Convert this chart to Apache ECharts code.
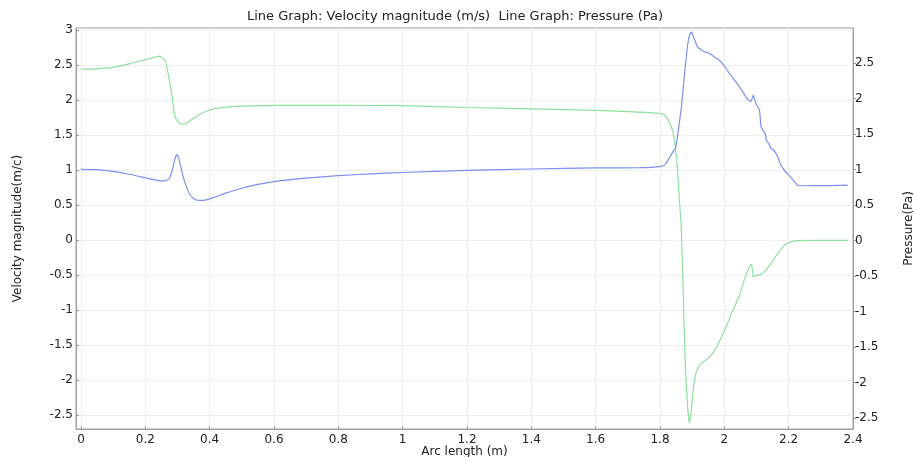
<!DOCTYPE html>
<html>
<head>
<meta charset="utf-8">
<script src="https://cdn.jsdelivr.net/npm/echarts@6/dist/echarts.min.js"></script>
<style>html,body{margin:0;padding:0;background:#fff;overflow:hidden;}#c{width:914px;height:457px;}</style>
</head>
<body>
<div id="c"></div>
<script>
var xTicks = [0, 0.2, 0.4, 0.6, 0.8, 1, 1.2, 1.4, 1.6, 1.8, 2, 2.2, 2.4];
var leftTicks = [-2.5, -2, -1.5, -1, -0.5, 0, 0.5, 1, 1.5, 2, 2.5, 3];
var rightTicks = [-2.5, -2, -1.5, -1, -0.5, 0, 0.5, 1, 1.5, 2, 2.5];

var velS = [0,0.05,0.1,0.15,0.2,0.24,0.26,0.275,0.285,0.293,0.298,0.305,0.315,0.328,0.34,0.355,0.37,0.39,0.42,0.45,0.5,0.55,0.6,0.7,0.8,0.9,1.0,1.2,1.4,1.6,1.74,1.8,1.814,1.829,1.84,1.848,1.855,1.866,1.876,1.886,1.892,1.898,1.905,1.917,1.927,1.938,1.953,1.968,1.984,2.0,2.016,2.031,2.047,2.06,2.072,2.083,2.09,2.098,2.109,2.114,2.12,2.127,2.131,2.138,2.145,2.152,2.159,2.166,2.176,2.19,2.207,2.224,2.23,2.26,2.3,2.34,2.383];
var vel  = [1.01,1.005,0.98,0.94,0.89,0.85,0.845,0.88,1.02,1.18,1.22,1.15,0.95,0.76,0.64,0.58,0.567,0.575,0.62,0.67,0.74,0.795,0.835,0.885,0.92,0.945,0.965,0.995,1.015,1.03,1.035,1.05,1.07,1.17,1.26,1.31,1.5,1.88,2.36,2.79,2.93,2.97,2.89,2.76,2.72,2.69,2.67,2.62,2.57,2.49,2.38,2.29,2.19,2.1,2.01,1.98,2.07,1.95,1.86,1.62,1.57,1.52,1.43,1.38,1.31,1.29,1.25,1.19,1.07,0.976,0.895,0.8,0.776,0.776,0.777,0.78,0.785];

var presS = [0,0.05,0.1,0.15,0.2,0.23,0.245,0.261,0.271,0.282,0.289,0.295,0.307,0.318,0.33,0.349,0.37,0.4,0.43,0.46,0.5,0.6,0.8,1.0,1.2,1.4,1.6,1.736,1.8,1.814,1.829,1.84,1.848,1.855,1.86,1.866,1.872,1.879,1.886,1.891,1.896,1.902,1.908,1.913,1.92,1.928,1.953,1.974,1.984,2.005,2.025,2.047,2.067,2.08,2.085,2.09,2.1,2.112,2.124,2.145,2.166,2.18,2.193,2.21,2.224,2.3,2.383];
var pres  = [2.415,2.42,2.44,2.49,2.55,2.585,2.6,2.54,2.35,2.07,1.81,1.72,1.65,1.64,1.66,1.72,1.78,1.84,1.87,1.885,1.895,1.905,1.905,1.9,1.875,1.855,1.835,1.81,1.79,1.77,1.67,1.53,1.3,0.97,0.59,0.2,-0.7,-1.8,-2.35,-2.57,-2.45,-2.15,-1.95,-1.85,-1.78,-1.73,-1.65,-1.52,-1.43,-1.22,-1.0,-0.77,-0.49,-0.35,-0.34,-0.51,-0.49,-0.48,-0.44,-0.32,-0.18,-0.1,-0.05,-0.015,0,0.002,0.003];

var titleText = 'Line Graph: Velocity magnitude (m/s)  Line Graph: Pressure (Pa)';

var velData = velS.map(function(s,i){return [s, vel[i]];});
var presData = presS.map(function(s,i){return [s, pres[i]];});

var FONT = 'DejaVu Sans';
var chart = echarts.init(document.getElementById('c'), null, {renderer:'canvas'});
chart.setOption({
  animation: false,
  backgroundColor: '#fff',
  textStyle: {fontFamily: FONT},
  graphic: [{
    type: 'text', x: 455, y: 17,
    style: {text: titleText, fontFamily: FONT, fontSize: 13, fill: '#222', align: 'center', verticalAlign: 'middle'}
  }],
  grid: {left: 76, right: 61, top: 28, bottom: 28, show: true, borderColor: '#a0a0a0', borderWidth: 1,
    containLabel: false, outerBoundsMode: 'none'},
  xAxis: {
    type: 'value', min: -0.0155, max: 2.4,
    name: 'Arc length (m)', nameLocation: 'middle', nameGap: 17, nameMoveOverlap: false,
    nameTextStyle: {fontFamily: FONT, fontSize: 12, color: '#222'},
    axisLine: {show: true, onZero: false, lineStyle: {color: '#a0a0a0'}},
    axisTick: {show: true, inside: true, length: 3, lineStyle: {color: '#999'}, customValues: xTicks},
    axisLabel: {fontFamily: FONT, fontSize: 12, color: '#222', margin: 5, customValues: xTicks,
      formatter: function(v){return String(v);}},
    splitLine: {show: true, lineStyle: {color: '#efefef', width: 1}}
  },
  yAxis: [{
    type: 'value', min: -2.7, max: 3.03, position: 'left',
    name: 'Velocity magnitude(m/c)', nameLocation: 'middle', nameGap: 52, nameRotate: 90, nameMoveOverlap: false,
    nameTextStyle: {fontFamily: FONT, fontSize: 12, color: '#222'},
    axisLine: {show: true, onZero: false, lineStyle: {color: '#a0a0a0'}},
    axisTick: {show: true, inside: true, length: 3, lineStyle: {color: '#999'}, customValues: leftTicks},
    axisLabel: {fontFamily: FONT, fontSize: 12, color: '#222', margin: 3, customValues: leftTicks,
      formatter: function(v){return String(v);}},
    splitLine: {show: true, lineStyle: {color: '#efefef', width: 1}}
  }, {
    type: 'value', min: -2.655, max: 2.995, position: 'right',
    name: 'Pressure(Pa)', nameLocation: 'middle', nameGap: 50, nameRotate: 90, nameMoveOverlap: false,
    nameTextStyle: {fontFamily: FONT, fontSize: 12, color: '#222'},
    axisLine: {show: true, onZero: false, lineStyle: {color: '#a0a0a0'}},
    axisTick: {show: true, inside: false, length: 3, lineStyle: {color: '#999'}, customValues: rightTicks},
    axisLabel: {fontFamily: FONT, fontSize: 12, color: '#222', margin: 2, customValues: rightTicks,
      formatter: function(v){return String(v);}},
    splitLine: {show: false}
  }],
  series: [{
    name: 'Velocity magnitude', type: 'line', yAxisIndex: 0, data: velData,
    showSymbol: false, smooth: 0.15, lineStyle: {color: '#7b8ff5', width: 1.2}, z: 3
  }, {
    name: 'Pressure', type: 'line', yAxisIndex: 1, data: presData,
    showSymbol: false, smooth: 0.15, lineStyle: {color: '#8ee09c', width: 1.2}, z: 2
  }]
});
</script>
</body>
</html>
